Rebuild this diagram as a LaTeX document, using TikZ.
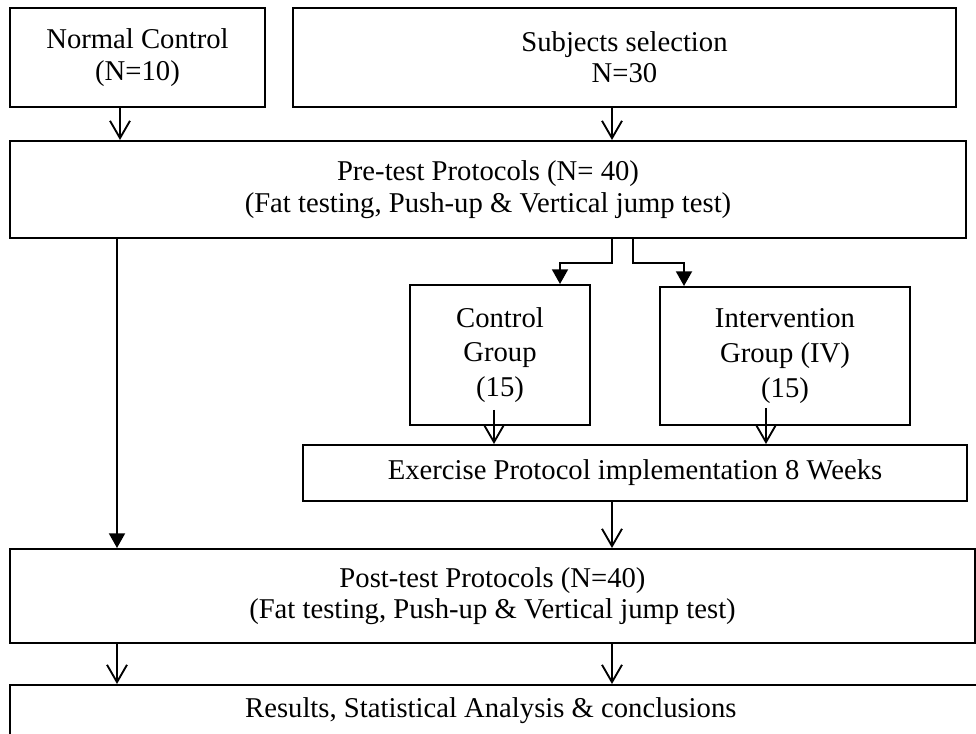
\documentclass[tikz,border=0pt]{standalone}
\usepackage{fontspec}
\setmainfont{Liberation Serif}
\usetikzlibrary{arrows.meta,calc}
\begin{document}
\begin{tikzpicture}[x=0.75pt,y=-0.75pt,
  box/.style={draw,line width=1.5pt,inner sep=0pt,align=center,font=\fontsize{21.5}{23.5}\selectfont},
  tallbox/.style={box,font=\fontsize{21.5}{26}\selectfont},
  openarr/.style={line width=1.4pt,-{Straight Barb[length=13pt,width=15pt]}},
  fillarr/.style={line width=1.4pt,-{Triangle[length=11pt,width=12pt]}}]
\useasboundingbox (0,0) rectangle (976,734);

\node[box,minimum width=191.25pt,minimum height=74.25pt] (nc) at (137.5,57.5) {Normal Control\\(N=10)};
\node[box,minimum width=497.25pt,minimum height=74.25pt] (ss) at (624.5,57.5) {Subjects selection\\N=30};
\node[box,minimum width=717pt,minimum height=72.75pt] (pre) at (488,189.5) {Pre-test Protocols (N= 40)\\(Fat testing, Push-up \& Vertical jump test)};
\node[tallbox,minimum width=135pt,minimum height=105pt] (cg) at (500,355) {Control\\Group\\(15)};
\node[tallbox,minimum width=187.5pt,minimum height=103.5pt] (iv) at (785,356) {Intervention\\Group (IV)\\(15)};
\node[box,minimum width=498pt,minimum height=42pt] (ex) at (635,473) {Exercise Protocol implementation 8 Weeks};
\node[box,minimum width=723.75pt,minimum height=70.5pt] (post) at (492.5,596) {Post-test Protocols (N=40)\\(Fat testing, Push-up \& Vertical jump test)};
\node[box,minimum width=731.25pt,minimum height=39pt] (res) at (497.5,711) {Results, Statistical Analysis \& conclusions\hspace*{10pt}};

\coordinate (xa) at (120,0);
\coordinate (xb) at (612,0);
\coordinate (xc) at (633,0);
\coordinate (xl) at (560,0);
\coordinate (xr) at (684,0);
\coordinate (xd) at (494,0);
\coordinate (xe) at (766,0);
\coordinate (xf) at (117,0);
\coordinate (ybr) at (0,263);

\draw[openarr] (xa |- nc.south) -- (xa |- pre.north);
\draw[openarr] (xb |- ss.south) -- (xb |- pre.north);
\draw[fillarr] (xb |- pre.south) |- (xl |- ybr) -- (xl |- cg.north);
\draw[fillarr] (xc |- pre.south) |- (xr |- ybr) -- (xr |- iv.north);
\draw[openarr] ($(xd |- cg.south)+(0,-16)$) -- (xd |- ex.north);
\draw[openarr] ($(xe |- iv.south)+(0,-18)$) -- (xe |- ex.north);
\draw[openarr] (xb |- ex.south) -- (xb |- post.north);
\draw[fillarr] (xf |- pre.south) -- (xf |- post.north);
\draw[openarr] (xf |- post.south) -- (xf |- res.north);
\draw[openarr] (xb |- post.south) -- (xb |- res.north);
\end{tikzpicture}
\end{document}
